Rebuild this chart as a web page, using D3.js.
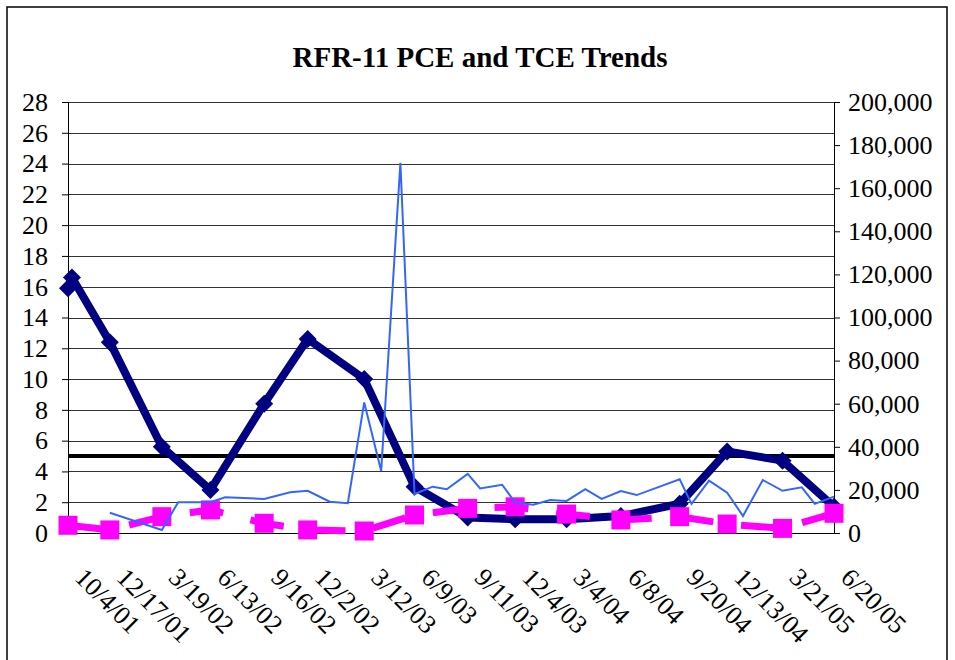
<!DOCTYPE html>
<html>
<head>
<meta charset="utf-8">
<script src="https://cdn.jsdelivr.net/npm/d3@7"></script>
<style>
  body { margin: 0; background: #fff; }
  svg text { font-family: "Liberation Serif", serif; fill: #000; }
</style>
</head>
<body>
<div id="chart"></div>
<script>
/* data */
var sampleDates = ["10/4/01", "12/17/01", "3/19/02", "6/13/02", "9/16/02", "12/2/02", "3/12/03", "6/9/03",
                   "9/11/03", "12/4/03", "3/4/04", "6/8/04", "9/20/04", "12/13/04", "3/21/05", "6/20/05"];
// navy series (left axis) has an extra early sample
var pceDates = ["10/4/01", "10/11/01", "12/17/01", "3/19/02", "6/13/02", "9/16/02", "12/2/02", "3/12/03", "6/9/03",
                "9/11/03", "12/4/03", "3/4/04", "6/8/04", "9/20/04", "12/13/04", "3/21/05", "6/20/05"];
var pceValues = [15.9, 16.6, 12.4, 5.6, 2.8, 8.4, 12.6, 10.0, 3.0, 1.0, 0.9, 0.9, 1.1, 1.9, 5.3, 4.7, 1.7];
// magenta series (left axis)
var tceValues = [0.5, 0.2, 1.06, 1.5, 0.63, 0.2, 0.13, 1.17, 1.6, 1.7, 1.23, 0.85, 1.06, 0.58, 0.3, 1.28];
// thin blue series (right axis)
var rightDates = ["12/17/01", "3/19/02", "4/17/02", "6/13/02", "7/9/02", "9/16/02", "11/1/02", "12/2/02", "1/10/03",
                  "2/11/03", "3/12/03", "4/11/03", "5/15/03", "6/9/03", "7/11/03", "8/5/03", "9/11/03", "10/3/03",
                  "11/11/03", "12/4/03", "1/5/04", "2/4/04", "3/4/04", "4/6/04", "5/5/04", "6/8/04", "7/6/04",
                  "9/20/04", "10/11/04", "11/11/04", "12/13/04", "1/10/05", "2/14/05", "3/21/05", "4/24/05",
                  "5/17/05", "6/20/05"];
var rightValues = [9400, 1400, 14300, 14300, 16600, 15800, 18900, 19600, 14500,
                   13800, 60600, 28800, 171800, 18100, 21500, 20300, 27400, 20700,
                   22400, 14100, 13100, 15300, 14900, 20300, 15800, 19500, 17600,
                   24900, 13500, 24300, 18700, 7900, 24600, 19600, 21200,
                   13500, 16900];
var mcl = 5;
var leftTicks = d3.range(0, 29, 2);
var rightTicks = d3.range(0, 200001, 20000);
var title = "RFR-11 PCE and TCE Trends";

/* setup */
var width = 955, height = 660;
var plotL = 68, plotR = 834, plotT = 102, plotB = 533;
var serif = '"Liberation Serif", serif';
var parse = d3.timeParse("%m/%d/%y");

var x = d3.scaleTime()
    .domain([parse(sampleDates[0]), parse(sampleDates[sampleDates.length - 1])])
    .range([plotL, plotR]);
var yL = d3.scaleLinear().domain([0, 28]).range([plotB, plotT]);
var yR = d3.scaleLinear().domain([0, 200000]).range([plotB, plotT]);

var svg = d3.select('#chart').append('svg')
    .attr('width', width)
    .attr('height', height);

svg.append('rect')
    .attr('x', 7).attr('y', 7)
    .attr('width', 940).attr('height', 720)
    .attr('fill', '#fff').attr('stroke', '#000').attr('stroke-width', 1.5);

svg.append('text')
    .attr('x', 480).attr('y', 67)
    .attr('text-anchor', 'middle')
    .attr('font-family', serif)
    .style('font-size', '29px').style('font-weight', 'bold')
    .text(title);

// gridlines
svg.append('g').selectAll('line')
    .data(leftTicks.filter(function (d) { return d > 0; }))
  .enter().append('line')
    .attr('x1', plotL).attr('x2', plotR)
    .attr('y1', function (d) { return Math.round(yL(d)) + 0.5; })
    .attr('y2', function (d) { return Math.round(yL(d)) + 0.5; })
    .attr('stroke', '#333').attr('stroke-width', 1);

// axes
var gL = svg.append('g')
    .attr('transform', 'translate(' + plotL + ',0)')
    .call(d3.axisLeft(yL).tickValues(leftTicks).tickSize(6).tickPadding(14));
var gR = svg.append('g')
    .attr('transform', 'translate(' + plotR + ',0)')
    .call(d3.axisRight(yR).tickValues(rightTicks).tickSize(6).tickPadding(8).tickFormat(d3.format(',')));
var gB = svg.append('g')
    .attr('transform', 'translate(0,' + plotB + ')')
    .call(d3.axisBottom(x)
        .tickValues(sampleDates.map(parse))
        .tickSize(0)
        .tickFormat(function (d, i) { return sampleDates[i]; }));
[gL, gR, gB].forEach(function (g) {
    g.attr('font-family', serif).attr('font-size', 26);
    g.selectAll('line, path').attr('stroke', '#000');
});
gB.selectAll('text')
    .attr('text-anchor', 'start')
    .attr('x', 0).attr('y', 0).attr('dy', 0)
    .attr('transform', 'translate(5,46) rotate(45)');

// MCL line
svg.append('line')
    .attr('x1', x.range()[0]).attr('x2', x.range()[1])
    .attr('y1', yL(mcl)).attr('y2', yL(mcl))
    .attr('stroke', '#000').attr('stroke-width', 4);

// navy series
var pcePts = pceDates.map(function (d, i) { return [x(parse(d)), yL(pceValues[i])]; });
svg.append('path')
    .attr('d', d3.line()(pcePts))
    .attr('fill', 'none').attr('stroke', '#000080')
    .attr('stroke-width', 8).attr('stroke-linejoin', 'round');
svg.append('g').selectAll('path')
    .data(pcePts)
  .enter().append('path')
    .attr('d', 'M0,-9L9,0L0,9L-9,0Z')
    .attr('transform', function (p) { return 'translate(' + p[0] + ',' + p[1] + ')'; })
    .attr('fill', '#000080');

// magenta series
var tcePts = sampleDates.map(function (d, i) { return [x(parse(d)), yL(tceValues[i])]; });
svg.append('path')
    .attr('d', d3.line()(tcePts))
    .attr('fill', 'none').attr('stroke', '#FF00FF')
    .attr('stroke-width', 7).attr('stroke-dasharray', '34,28');
svg.append('g').selectAll('rect')
    .data(tcePts)
  .enter().append('rect')
    .attr('x', function (p) { return p[0] - 9.5; })
    .attr('y', function (p) { return p[1] - 9.5; })
    .attr('width', 19).attr('height', 19)
    .attr('fill', '#FF00FF');

// thin blue series
svg.append('path')
    .attr('d', d3.line()(rightDates.map(function (d, i) { return [x(parse(d)), yR(rightValues[i])]; })))
    .attr('fill', 'none').attr('stroke', '#3366FF').attr('stroke-width', 2);
</script>
</body>
</html>
